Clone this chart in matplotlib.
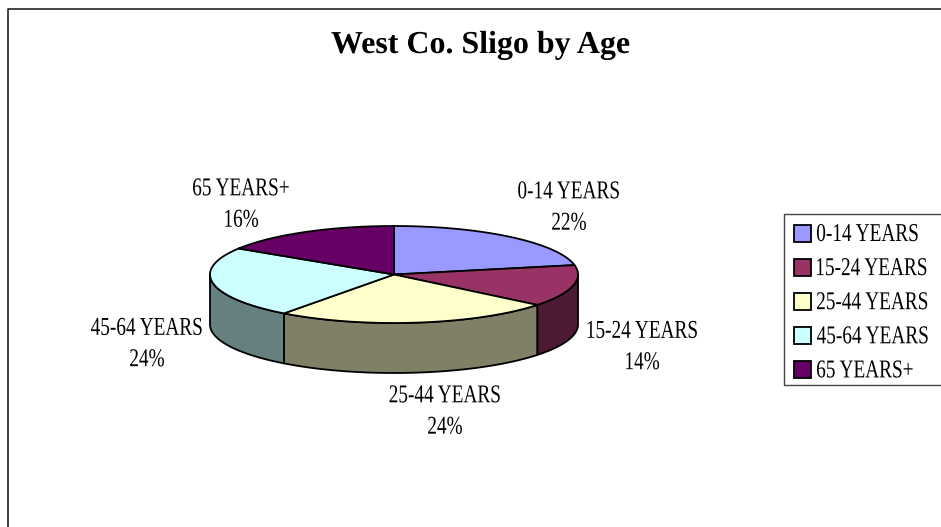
import numpy as np
import matplotlib
matplotlib.use("Agg")
import matplotlib.pyplot as plt
from matplotlib.patches import Polygon, Rectangle
from matplotlib.patheffects import AbstractPathEffect
from matplotlib.transforms import Affine2D

categories = ["0-14 YEARS", "15-24 YEARS", "25-44 YEARS", "45-64 YEARS", "65 YEARS+"]
shares = [21.9, 13.9, 24.4, 23.8, 16.0]
pct_labels = ["22%", "14%", "24%", "24%", "16%"]
top_colors = ["#9999ff", "#993366", "#ffffcc", "#ccffff", "#660066"]
side_colors = ["#4d4d80", "#4d1a33", "#808066", "#668080", "#330033"]
title = "West Co. Sligo by Age"

W, H = 941, 527
CX, CY = 394, 274.5      # centro del pastel
RX, RY = 184, 48.5
DEPTH = 50
# posicion de cada etiqueta (centro de las dos lineas)
label_pos = [(569, 208), (642, 347.5), (445, 412), (147, 344.5), (241, 205)]


# el original tiene el texto muy estrecho, se comprime en horizontal
class Squeeze(AbstractPathEffect):
    def __init__(self, sx, left=None):
        super().__init__()
        self.sx = sx
        self.left = left  # borde izquierdo en pixeles, si no se centra

    def draw_path(self, renderer, gc, tpath, affine, rgbFace=None):
        ext = tpath.get_extents()
        if self.left is None:
            mid = (ext.x0 + ext.x1) / 2
            t = Affine2D().translate(-mid, 0).scale(self.sx, 1).translate(mid, 0) + affine
        else:
            origin = affine.transform((0, 0))[0]
            t = Affine2D().translate(-ext.x0, 0).scale(self.sx, 1) + affine
            t = t + Affine2D().translate(self.left - origin, 0)
        renderer.draw_path(gc, tpath, t, rgbFace)


fig = plt.figure(figsize=(W / 100, H / 100), dpi=100)
ax = fig.add_axes([0, 0, 1, 1])
ax.set_xlim(0, W)
ax.set_ylim(H, 0)
ax.axis("off")

# marco exterior
ax.plot([941, 8, 8], [9, 9, 527], color="#222222", lw=1.2, zorder=1)

ax.text(481, 45.5, title, family="Liberation Serif", weight="bold", fontsize=23,
        ha="center", va="center", color="black",
        path_effects=[Squeeze(1.0)])

fractions = np.cumsum([0] + shares) / sum(shares)

# cara lateral, solo la parte visible (mitad de abajo del elipse)
for i in range(len(shares)):
    a0, a1 = fractions[i] * 2 * np.pi, fractions[i + 1] * 2 * np.pi
    lo, hi = max(a0, np.pi / 2), min(a1, 3 * np.pi / 2)
    if hi <= lo:
        continue
    th = np.linspace(lo, hi, 120)
    x = CX + RX * np.sin(th)
    y = CY - RY * np.cos(th)
    pts = np.r_[np.c_[x, y], np.c_[x, y + DEPTH][::-1]]
    ax.add_patch(Polygon(pts, closed=True, facecolor=side_colors[i], edgecolor="black",
                         lw=1.3, joinstyle="round", zorder=2))

# cara superior
for i in range(len(shares)):
    a0, a1 = fractions[i] * 2 * np.pi, fractions[i + 1] * 2 * np.pi
    th = np.linspace(a0, a1, 200)
    x = CX + RX * np.sin(th)
    y = CY - RY * np.cos(th)
    pts = np.r_[[[CX, CY]], np.c_[x, y]]
    ax.add_patch(Polygon(pts, closed=True, facecolor=top_colors[i], edgecolor="black",
                         lw=1.3, joinstyle="round", zorder=3))

# etiquetas
for cat, pct, (lx, ly) in zip(categories, pct_labels, label_pos):
    ax.text(lx, ly, cat + "\n" + pct, family="Liberation Serif", fontsize=18.5,
            ha="center", va="center", linespacing=1.55, color="black",
            path_effects=[Squeeze(0.75)], zorder=5)

# leyenda
ax.plot([941, 784.5, 784.5, 941], [213.5, 213.5, 385, 385], color="#444444", lw=1.0, zorder=4)
for i, cat in enumerate(categories):
    yc = 233.5 + i * 34.1
    ax.add_patch(Rectangle((794, yc - 8.5), 17, 17, facecolor=top_colors[i], edgecolor="black",
                           lw=1.3, zorder=4))
    # centrado para que la caja del texto quede dentro de la figura
    ax.text(866, yc + 1.5, cat, family="Liberation Serif", fontsize=18.5, ha="center", va="center",
            color="black", path_effects=[Squeeze(0.75, left=817)], zorder=5)

fig.savefig("out.png", dpi=100)
